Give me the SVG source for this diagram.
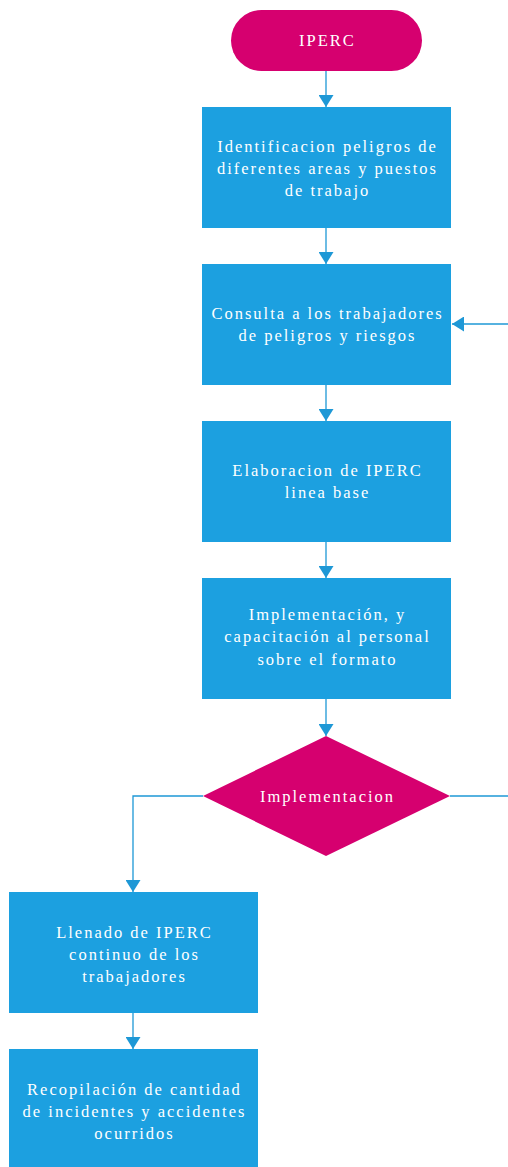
<svg xmlns="http://www.w3.org/2000/svg" width="508" height="1167" viewBox="0 0 508 1167">
<style>
.box{fill:#1CA0E0;}
.mag{fill:#D6006F;}
.t{font-family:"Liberation Serif","Times New Roman",serif;font-size:16.5px;fill:#FFFFFF;text-anchor:middle;letter-spacing:2px;}
.c{fill:none;stroke:#1E98D6;stroke-width:1.3;}
</style>
<defs>
<marker id="ah" markerWidth="12" markerHeight="15" refX="12" refY="7.5" viewBox="0 0 12 15" orient="auto" markerUnits="userSpaceOnUse">
<path d="M0,0 L12,7.5 L0,15 Z" fill="#1E98D6"/>
</marker>
</defs>
<rect width="508" height="1167" fill="#FFFFFF"/>
<g id="connectors">
<path class="c" d="M326,71 V107" marker-end="url(#ah)"/>
<path class="c" d="M326,228 V264" marker-end="url(#ah)"/>
<path class="c" d="M326,385 V421" marker-end="url(#ah)"/>
<path class="c" d="M326,542 V578" marker-end="url(#ah)"/>
<path class="c" d="M326,699 V736" marker-end="url(#ah)"/>
<path class="c" d="M203,796 H133 V892" marker-end="url(#ah)"/>
<path class="c" d="M450,796 H508"/>
<path class="c" d="M508,324 H452" marker-end="url(#ah)"/>
<path class="c" d="M133,1013 V1049" marker-end="url(#ah)"/>
</g>
<g id="start">
<rect class="mag" x="231" y="10" width="191" height="61" rx="30.5"/>
<text class="t" x="327.5" y="46">IPERC</text>
</g>
<g id="n1">
<rect class="box" x="202" y="107" width="249" height="121"/>
<text class="t" x="327.5" y="152">Identificacion peligros de</text>
<text class="t" x="327.5" y="174">diferentes areas y puestos</text>
<text class="t" x="327.5" y="196">de trabajo</text>
</g>
<g id="n2">
<rect class="box" x="202" y="264" width="249" height="121"/>
<text class="t" x="327.5" y="319">Consulta a los trabajadores</text>
<text class="t" x="327.5" y="341">de peligros y riesgos</text>
</g>
<g id="n3">
<rect class="box" x="202" y="421" width="249" height="121"/>
<text class="t" x="327.5" y="476">Elaboracion de IPERC</text>
<text class="t" x="327.5" y="498">linea base</text>
</g>
<g id="n4">
<rect class="box" x="202" y="578" width="249" height="121"/>
<text class="t" x="327.5" y="620">Implementación, y</text>
<text class="t" x="327.5" y="642">capacitación al personal</text>
<text class="t" x="327.5" y="665">sobre el formato</text>
</g>
<g id="decision">
<polygon class="mag" points="326,736 450,796 326,856 203,796"/>
<text class="t" x="327.5" y="802">Implementacion</text>
</g>
<g id="n5">
<rect class="box" x="9" y="892" width="249" height="121"/>
<text class="t" x="134.5" y="938">Llenado de IPERC</text>
<text class="t" x="134.5" y="960">continuo de los</text>
<text class="t" x="134.5" y="982">trabajadores</text>
</g>
<g id="n6">
<rect class="box" x="9" y="1049" width="249" height="121"/>
<text class="t" x="134.5" y="1095">Recopilación de cantidad</text>
<text class="t" x="134.5" y="1117">de incidentes y accidentes</text>
<text class="t" x="134.5" y="1139">ocurridos</text>
</g>
</svg>
